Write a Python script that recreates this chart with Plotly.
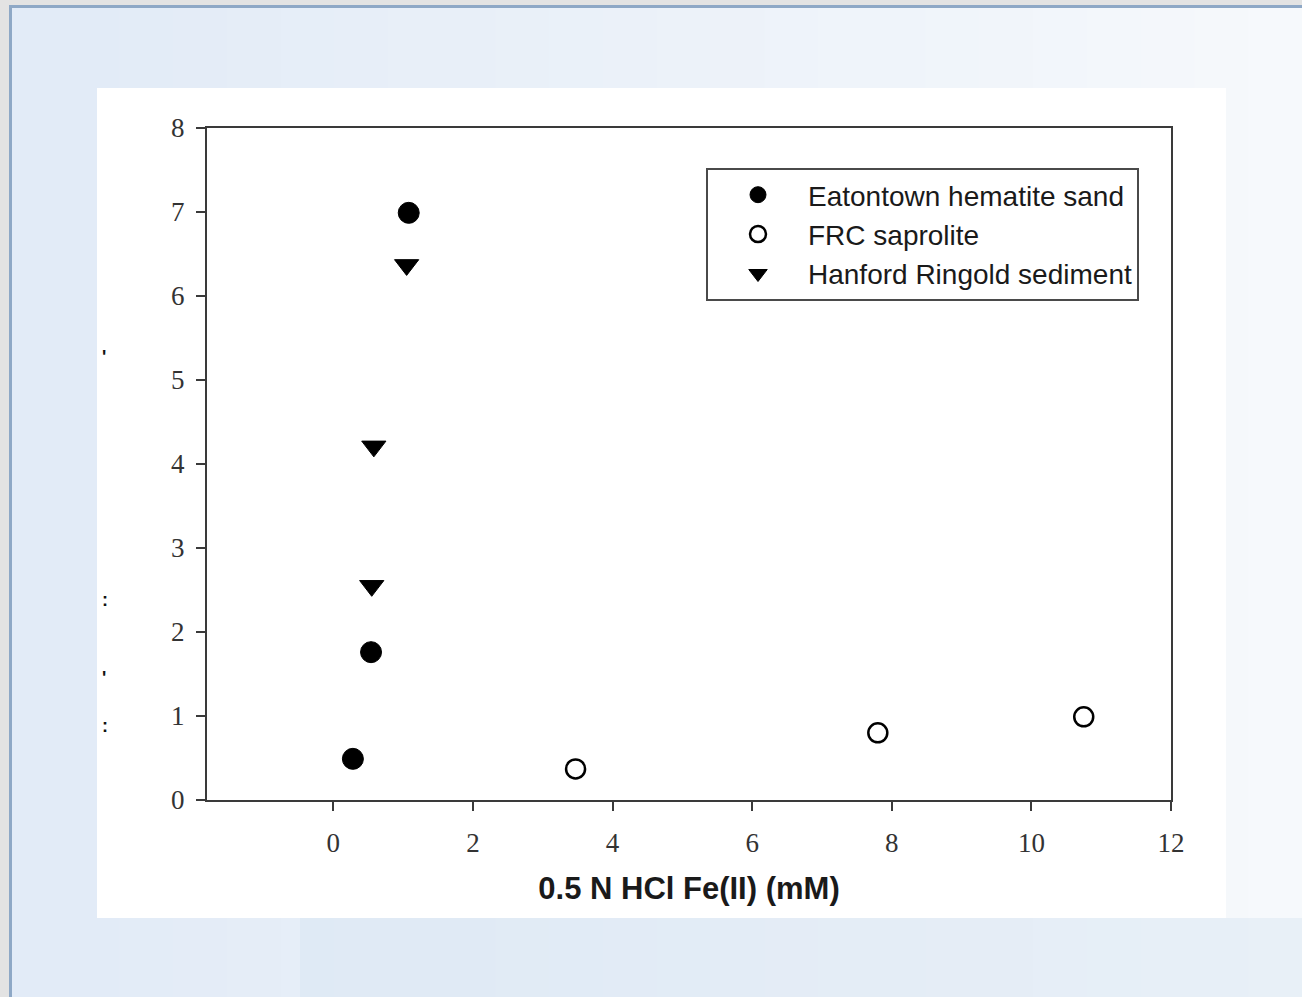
import plotly.graph_objects as go

# Measured series: 0.5 N HCl-extractable Fe(II) (mM) vs. response
eaton_x = [0.28, 0.54, 1.08]
eaton_y = [0.49, 1.76, 6.99]
frc_x = [3.47, 7.80, 10.75]
frc_y = [0.37, 0.80, 0.99]
hanford_x = [0.55, 0.58, 1.05]
hanford_y = [2.55, 4.21, 6.37]

x_ticks = [0, 2, 4, 6, 8, 10, 12]
y_ticks = [0, 1, 2, 3, 4, 5, 6, 7, 8]
x_title = "0.5 N HCl Fe(II) (mM)"

W, H = 1302, 997
L, R, T, B = 207, 1171, 128, 800   # plot area in pixels


def px(x):
    return (x - L) / (R - L)


def py(y):
    return (B - y) / (B - T)


fig = go.Figure()
fig.add_trace(go.Scatter(
    x=eaton_x, y=eaton_y, mode="markers", name="Eatontown hematite sand",
    marker=dict(symbol="circle", size=21, color="black",
                line=dict(color="black", width=1)),
))
fig.add_trace(go.Scatter(
    x=frc_x, y=frc_y, mode="markers", name="FRC saprolite",
    marker=dict(symbol="circle", size=19, color="white",
                line=dict(color="black", width=2.5)),
))
fig.add_trace(go.Scatter(
    x=hanford_x, y=hanford_y, mode="markers", name="Hanford Ringold sediment",
    marker=dict(symbol="triangle-down", size=21, color="black",
                line=dict(color="black", width=1)),
))

shapes = []
# slide background: soft blue wash, lighter toward the upper right
n = 24
for i in range(n):
    t = i / (n - 1)
    r = int(226 + (246 - 226) * t)
    g = int(235 + (249 - 235) * t)
    b = int(247 + (252 - 247) * t)
    x0 = 12 + (W - 12) * i / n
    x1 = 12 + (W - 12) * (i + 1) / n + 1
    shapes.append(dict(type="rect", xref="paper", yref="paper",
                       x0=px(x0), x1=px(x1), y0=py(W), y1=py(8),
                       fillcolor=f"rgb({r},{g},{b})", line=dict(width=0),
                       layer="below"))
# lower band, slightly bluer
shapes.append(dict(type="rect", xref="paper", yref="paper",
                   x0=px(300), x1=px(W), y0=py(H), y1=py(918),
                   fillcolor="rgba(215,228,242,0.45)", line=dict(width=0),
                   layer="below"))
# window chrome: grey strips and blue border
shapes.append(dict(type="rect", xref="paper", yref="paper",
                   x0=px(0), x1=px(W), y0=py(5), y1=py(0),
                   fillcolor="#e3e3e3", line=dict(width=0), layer="below"))
shapes.append(dict(type="rect", xref="paper", yref="paper",
                   x0=px(0), x1=px(9), y0=py(H), y1=py(0),
                   fillcolor="#e3e3e3", line=dict(width=0), layer="below"))
shapes.append(dict(type="rect", xref="paper", yref="paper",
                   x0=px(9), x1=px(W), y0=py(8), y1=py(5),
                   fillcolor="#8ea8c6", line=dict(width=0), layer="below"))
shapes.append(dict(type="rect", xref="paper", yref="paper",
                   x0=px(9), x1=px(12), y0=py(H), y1=py(5),
                   fillcolor="#8ea8c6", line=dict(width=0), layer="below"))
# white chart card
shapes.append(dict(type="rect", xref="paper", yref="paper",
                   x0=px(97), x1=px(1226), y0=py(918), y1=py(88),
                   fillcolor="white", line=dict(width=0), layer="below"))

# fragments of a clipped y-axis title at the card's left edge
frag = [(":", 100, 612), (":", 100, 738), ("'", 100, 345), ("'", 100, 690)]
annotations = [dict(text=f"<b>{s}</b>", x=px(xx), y=py(yy), xref="paper",
                    yref="paper", showarrow=False,
                    font=dict(size=18, color="#111", family="Liberation Sans"))
               for s, xx, yy in frag]

axis_common = dict(
    showgrid=False, zeroline=False, showline=True, mirror=True,
    linecolor="#3a3a3a", linewidth=2, ticks="outside", ticklen=9,
    tickwidth=2, tickcolor="#3a3a3a",
    tickfont=dict(family="Liberation Serif", size=27, color="#333"),
)

fig.update_layout(
    width=W, height=H,
    margin=dict(l=L, r=W - R, t=T, b=H - B, pad=0),
    paper_bgcolor="#e6eef8", plot_bgcolor="white",
    shapes=shapes, annotations=annotations,
    xaxis=dict(range=[-1.81, 12], tickvals=x_ticks, ticklabelstandoff=9,
               title=dict(text=f"<b>{x_title}</b>", standoff=20,
                          font=dict(family="Liberation Sans", size=31,
                                    color="#1a1a1a")),
               **axis_common),
    yaxis=dict(range=[0, 8], tickvals=y_ticks, ticklabelstandoff=6,
               **axis_common),
    legend=dict(x=px(706), y=py(168), xanchor="left", yanchor="top",
                bgcolor="white", bordercolor="#4a4a4a", borderwidth=2,
                font=dict(family="Liberation Sans", size=28, color="#1a1a1a"),
                itemwidth=90, tracegroupgap=0),
    showlegend=True,
)

fig.write_html("out.html")
